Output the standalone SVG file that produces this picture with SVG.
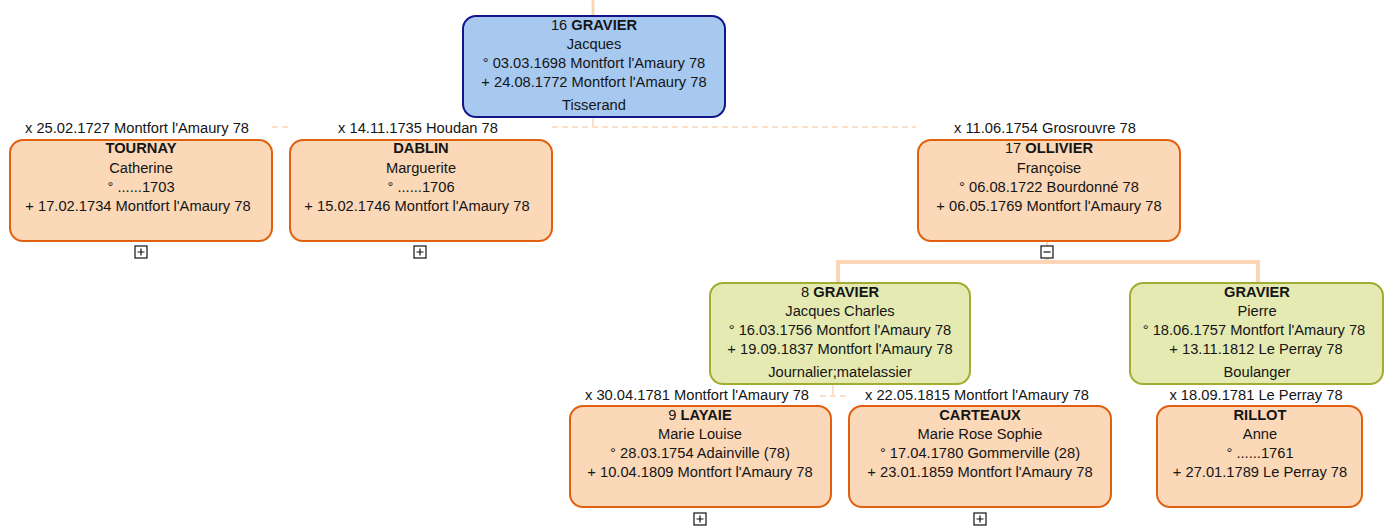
<svg xmlns="http://www.w3.org/2000/svg" width="1384" height="526" viewBox="0 0 1384 526">
<style>
text{font-family:"Liberation Sans",Arial,sans-serif;font-size:14.7px;fill:#151515;text-anchor:middle}
.b{font-weight:bold}
.blue{fill:#a7c9f0;stroke:#14148a;stroke-width:2}
.ora{fill:#fbd8b8;stroke:#e0600f;stroke-width:2}
.grn{fill:#e4eab2;stroke:#a2ac33;stroke-width:2}
.link{stroke:#fbd6b6;fill:none}
.dash{stroke:#fbd6b6;fill:none;stroke-width:1.5;stroke-dasharray:6 4}
.tog{fill:#fff;stroke:#111;stroke-width:1.2}
.tl{stroke:#111;stroke-width:1.2}
</style>
<g id="connectors">
<line class="link" x1="593" y1="0" x2="593" y2="16" stroke-width="3"/>
<line class="link" x1="593" y1="117" x2="593" y2="127" stroke-width="1.5"/>
<line class="dash" x1="552" y1="127" x2="916" y2="127"/>
<line class="dash" x1="272" y1="127" x2="290" y2="127"/>
<line class="link" x1="1047" y1="241" x2="1047" y2="246" stroke-width="2"/>
<path class="link" d="M1047 258 V262 M838 262 H1258 M838 260 V283 M1258 260 V283" stroke-width="4"/>
<line class="link" x1="833" y1="384" x2="833" y2="396" stroke-width="1.5"/>
<line class="dash" x1="820" y1="396" x2="848" y2="396"/>
</g>
<g id="n16">
<rect class="blue" x="463" y="16" width="262" height="101" rx="13"/>
<text x="594" y="30">16 <tspan class="b">GRAVIER</tspan></text>
<text x="594" y="49">Jacques</text>
<text x="594" y="68">° 03.03.1698 Montfort l'Amaury 78</text>
<text x="594" y="87">+ 24.08.1772 Montfort l'Amaury 78</text>
<text x="594" y="110">Tisserand</text>
</g>
<g id="tournay">
<text x="137" y="133">x 25.02.1727 Montfort l'Amaury 78</text>
<rect class="ora" x="10" y="140" width="262" height="101" rx="13"/>
<text x="141" y="153" class="b">TOURNAY</text>
<text x="141" y="173">Catherine</text>
<text x="141" y="192">° ......1703</text>
<text x="138" y="211">+ 17.02.1734 Montfort l'Amaury 78</text>
<rect class="tog" x="135" y="246" width="12" height="12"/>
<path class="tl" d="M137.5 252 H144.5 M141 248.5 V255.5"/>
</g>
<g id="dablin">
<text x="418" y="133">x 14.11.1735 Houdan 78</text>
<rect class="ora" x="290" y="140" width="262" height="101" rx="13"/>
<text x="421" y="153" class="b">DABLIN</text>
<text x="421" y="173">Marguerite</text>
<text x="421" y="192">° ......1706</text>
<text x="417" y="211">+ 15.02.1746 Montfort l'Amaury 78</text>
<rect class="tog" x="414" y="246" width="12" height="12"/>
<path class="tl" d="M416.5 252 H423.5 M420 248.5 V255.5"/>
</g>
<g id="n17">
<text x="1045" y="133">x 11.06.1754 Grosrouvre 78</text>
<rect class="ora" x="918" y="140" width="262" height="101" rx="13"/>
<text x="1049" y="153">17 <tspan class="b">OLLIVIER</tspan></text>
<text x="1049" y="173">Françoise</text>
<text x="1049" y="192">° 06.08.1722 Bourdonné 78</text>
<text x="1049" y="211">+ 06.05.1769 Montfort l'Amaury 78</text>
<rect class="tog" x="1041" y="246" width="12" height="12"/>
<path class="tl" d="M1043.5 252 H1050.5"/>
</g>
<g id="n8">
<rect class="grn" x="710" y="283" width="260" height="101" rx="13"/>
<text x="840" y="297">8 <tspan class="b">GRAVIER</tspan></text>
<text x="840" y="316">Jacques Charles</text>
<text x="840" y="335">° 16.03.1756 Montfort l'Amaury 78</text>
<text x="840" y="354">+ 19.09.1837 Montfort l'Amaury 78</text>
<text x="840" y="377">Journalier;matelassier</text>
</g>
<g id="pierre">
<rect class="grn" x="1130" y="283" width="253" height="101" rx="13"/>
<text x="1257" y="297" class="b">GRAVIER</text>
<text x="1257" y="316">Pierre</text>
<text x="1254" y="335">° 18.06.1757 Montfort l'Amaury 78</text>
<text x="1256" y="354">+ 13.11.1812 Le Perray 78</text>
<text x="1257" y="377">Boulanger</text>
</g>
<g id="n9">
<text x="697" y="400">x 30.04.1781 Montfort l'Amaury 78</text>
<rect class="ora" x="570" y="406" width="261" height="101" rx="13"/>
<text x="700" y="420">9 <tspan class="b">LAYAIE</tspan></text>
<text x="700" y="439">Marie Louise</text>
<text x="700" y="458">° 28.03.1754 Adainville (78)</text>
<text x="700" y="477">+ 10.04.1809 Montfort l'Amaury 78</text>
<rect class="tog" x="694" y="513" width="12" height="12"/>
<path class="tl" d="M696.5 519 H703.5 M700 515.5 V522.5"/>
</g>
<g id="carteaux">
<text x="977" y="400">x 22.05.1815 Montfort l'Amaury 78</text>
<rect class="ora" x="849" y="406" width="262" height="101" rx="13"/>
<text x="980" y="420" class="b">CARTEAUX</text>
<text x="980" y="439">Marie Rose Sophie</text>
<text x="980" y="458">° 17.04.1780 Gommerville (28)</text>
<text x="980" y="477">+ 23.01.1859 Montfort l'Amaury 78</text>
<rect class="tog" x="974" y="513" width="12" height="12"/>
<path class="tl" d="M976.5 519 H983.5 M980 515.5 V522.5"/>
</g>
<g id="rillot">
<text x="1256" y="400">x 18.09.1781 Le Perray 78</text>
<rect class="ora" x="1157" y="406" width="205" height="101" rx="13"/>
<text x="1260" y="420" class="b">RILLOT</text>
<text x="1260" y="439">Anne</text>
<text x="1260" y="458">° ......1761</text>
<text x="1260" y="477">+ 27.01.1789 Le Perray 78</text>
</g>
</svg>
